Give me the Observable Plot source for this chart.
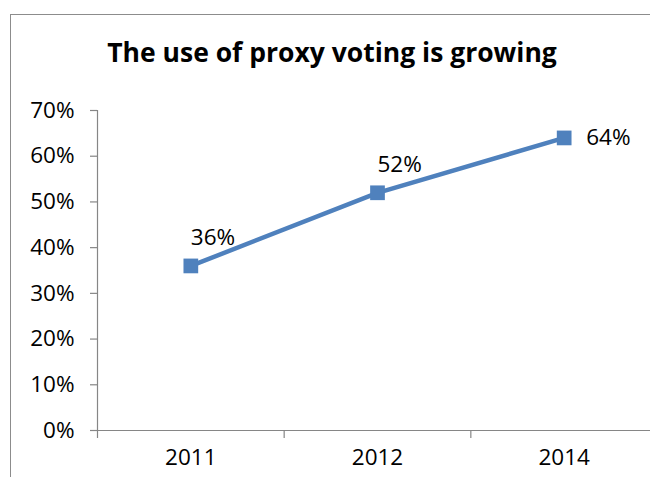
<!DOCTYPE html>
<html>
<head>
<meta charset="utf-8">
<script src="https://cdn.jsdelivr.net/npm/d3@7"></script>
<script src="https://cdn.jsdelivr.net/npm/@observablehq/plot@0.6"></script>
<style>
  html, body { margin: 0; padding: 0; background: #fff; overflow: hidden; width: 650px; height: 477px; }
  #wrap { position: relative; width: 650px; height: 477px; overflow: hidden; }
  #border { position: absolute; left: 10px; top: 14px; width: 700px; height: 500px; border: 1.5px solid #8c8c8c; box-sizing: border-box; pointer-events: none; }
  #title { position: absolute; left: 0; top: 34px; width: 664px; text-align: center; font-family: "Open Sans", Lato, sans-serif; font-weight: bold; font-size: 26.5px; line-height: normal; color: #000; }
  #chart { position: absolute; left: 0; top: 0; }
</style>
</head>
<body>
<div id="wrap">
  <div id="chart"></div>
  <div id="border"></div>
  <div id="title">The use of proxy voting is growing</div>
</div>
<script>
const years = ["2011", "2012", "2014"];
const shares = [0.36, 0.52, 0.64];
const yTicks = [0, 0.1, 0.2, 0.3, 0.4, 0.5, 0.6, 0.7];

const data = years.map((year, i) => ({ year, i, pos: i + 0.5, share: shares[i] }));
const last = data.length - 1;
const blue = "#4F81BD";
const axisGray = "#868686";
const fs = 22.5;

const chart = Plot.plot({
  width: 650,
  height: 477,
  marginLeft: 97,
  marginRight: 0,
  marginTop: 110,
  marginBottom: 47,
  style: { fontFamily: "'Open Sans', Lato, sans-serif", fontSize: fs + "px", color: "#000", background: "transparent", overflow: "visible" },
  x: { domain: [0, 3], range: [97, 657] },
  y: { domain: [0, 0.7] },
  marks: [
    Plot.ruleX([0], { y1: 0, y2: 0.7, stroke: axisGray, strokeWidth: 1.2 }),
    Plot.ruleY([0], { x1: 0, x2: 3, stroke: axisGray, strokeWidth: 1.2 }),
    Plot.axisY({ ticks: yTicks, tickFormat: d3.format(".0%"), tickSize: 7, tickPadding: 16, stroke: axisGray, strokeWidth: 1.2, label: null, fill: "#000" }),
    Plot.axisX({ ticks: [0, 1, 2, 3], tickFormat: () => "", tickSize: 8, stroke: axisGray, strokeWidth: 1.2, label: null }),
    Plot.axisX({ ticks: data.map(d => d.pos), tickFormat: (d) => years[Math.floor(d)], tickSize: 0, tickPadding: 19, label: null, fill: "#000" }),
    Plot.line(data, { x: "pos", y: "share", stroke: blue, strokeWidth: 4.5 }),
    Plot.dot(data, { x: "pos", y: "share", symbol: "square", r: 8.3, fill: blue, stroke: "none" }),
    Plot.text(data.filter(d => d.i < last), { x: "pos", y: "share", text: d => d3.format(".0%")(d.share), textAnchor: "start", dy: -28, fill: "#000", fontSize: fs }),
    Plot.text(data.filter(d => d.i === last), { x: "pos", y: "share", text: d => d3.format(".0%")(d.share), textAnchor: "start", dx: 22, fill: "#000", fontSize: fs })
  ]
});
document.getElementById("chart").appendChild(chart);
</script>
</body>
</html>
